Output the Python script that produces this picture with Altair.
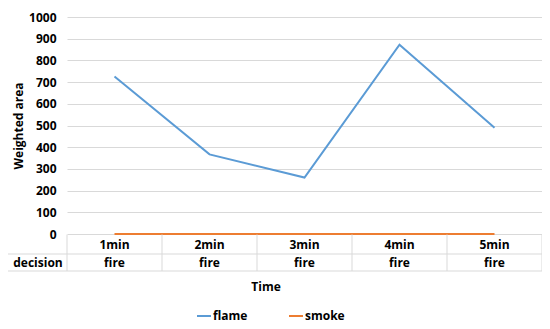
import altair as alt
import pandas as pd

times = ["1min", "2min", "3min", "4min", "5min"]
flame = [726, 367, 260, 872, 490]
smoke = [0, 0, 0, 0, 0]
decision = ["fire", "fire", "fire", "fire", "fire"]
y_ticks = [0, 100, 200, 300, 400, 500, 600, 700, 800, 900, 1000]

FONT = "Open Sans"
GRID = "#d9d9d9"

rows = []
for i, t in enumerate(times):
    rows.append({"pos": i + 0.5, "time": t, "series": "flame", "value": flame[i]})
    rows.append({"pos": i + 0.5, "time": t, "series": "smoke", "value": smoke[i]})
df = pd.DataFrame(rows)

cats = pd.DataFrame({"pos": [i + 0.5 for i in range(len(times))], "time": times, "decision": decision})
bounds = pd.DataFrame({"b": list(range(len(times) + 1))})

xs = alt.Scale(domain=[0, len(times)], nice=False, zero=False)
ys = alt.Scale(domain=[0, 1000], nice=False)

lines = alt.Chart(df).mark_line(strokeWidth=2).encode(
    x=alt.X("pos:Q", scale=xs, axis=None),
    y=alt.Y("value:Q", scale=ys, axis=alt.Axis(
        values=y_ticks, format="d", grid=True, gridColor=GRID, domain=False, ticks=False,
        labelFont=FONT, labelFontWeight="bold", labelFontSize=12, labelColor="#000",
        labelPadding=11, title="Weighted area", titleFont=FONT, titleFontWeight="bold",
        titleFontSize=12, titleColor="#000", titlePadding=3)),
    color=alt.Color("series:N", scale=alt.Scale(domain=["flame", "smoke"], range=["#5B9BD5", "#ED7D31"]),
                    legend=alt.Legend(title=None, orient="none", direction="horizontal",
                                      legendX=129, legendY=291, symbolType="stroke",
                                      symbolSize=196, symbolStrokeWidth=2, labelFont=FONT,
                                      labelFontWeight="bold", labelFontSize=12, labelColor="#000",
                                      labelOffset=1, columnPadding=37)),
)

vrules = alt.Chart(bounds).mark_rule(color=GRID, strokeWidth=1).encode(
    x=alt.X("b:Q", scale=xs, axis=None), y=alt.value(217.5), y2=alt.value(254)
)
hrules = alt.Chart(bounds).mark_rule(color=GRID, strokeWidth=1).encode(
    x=alt.value(-59), x2=alt.value(475), y=alt.value(237)
).transform_filter("datum.b == 0")
hrules2 = alt.Chart(bounds).mark_rule(color=GRID, strokeWidth=1).encode(
    x=alt.value(-59), x2=alt.value(475), y=alt.value(254)
).transform_filter("datum.b == 0")

txt = dict(font=FONT, fontWeight="bold", fontSize=12, color="#000")
cat_text = alt.Chart(cats).mark_text(**txt).encode(
    x=alt.X("pos:Q", scale=xs, axis=None), y=alt.value(228), text="time:N"
)
dec_text = alt.Chart(cats).mark_text(**txt).encode(
    x=alt.X("pos:Q", scale=xs, axis=None), y=alt.value(246), text="decision:N"
)
dec_label = alt.Chart(cats).mark_text(**txt).encode(
    x=alt.value(-29), y=alt.value(246), text=alt.value("decision")
).transform_filter("datum.pos < 1")
time_title = alt.Chart(cats).mark_text(**txt).encode(
    x=alt.value(199), y=alt.value(270), text=alt.value("Time")
).transform_filter("datum.pos < 1")

chart = alt.layer(lines, vrules, hrules, hrules2, cat_text, dec_text, dec_label, time_title).properties(
    width=475, height=217,
    autosize=alt.AutoSizeParams(type="none"),
    padding={"left": 59, "top": 9, "right": 0, "bottom": 95},
).configure_view(stroke=None)

chart.save("out.html", embed_options={"renderer": "svg", "actions": False})
